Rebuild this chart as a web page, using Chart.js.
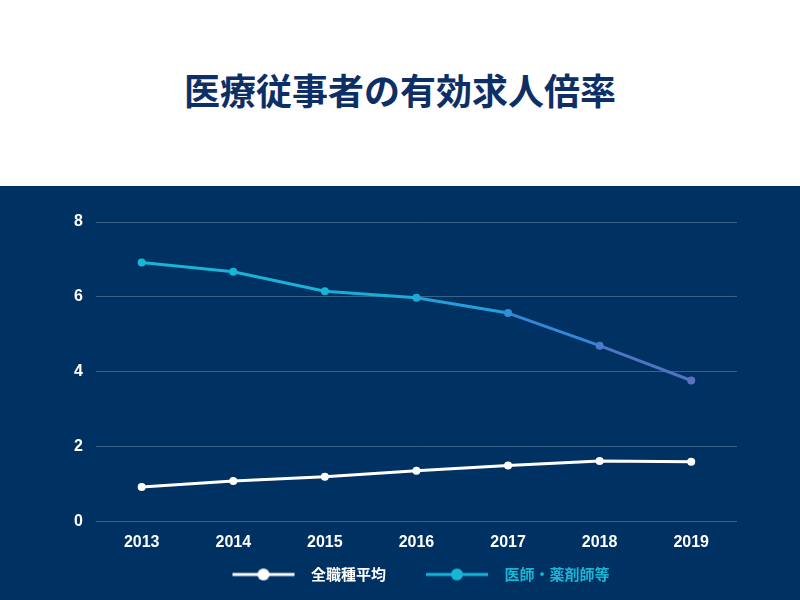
<!DOCTYPE html>
<html lang="ja">
<head>
  <meta charset="UTF-8">
  <title>医療従事者の有効求人倍率</title>
  <script src="https://cdn.jsdelivr.net/npm/chart.js"></script>
  <style>
    body {
      margin: 0;
      width: 800px;
      height: 600px;
      font-family: "Noto Sans CJK JP", "Liberation Sans", sans-serif;
    }
    .header {
      height: 186px;
      background: #ffffff;
      display: flex;
      align-items: center;
      justify-content: center;
    }
    .header h1 {
      margin: 0;
      margin-top: -8px;
      font-size: 36px;
      font-weight: 700;
      color: #0e2f65;
    }
    .panel {
      height: 414px;
      background: #003163;
    }
  </style>
</head>
<body>
  <div class="header"><h1>医療従事者の有効求人倍率</h1></div>
  <div class="panel">
    <canvas id="chart" width="800" height="414"></canvas>
  </div>

  <script>
    const years = ['2013', '2014', '2015', '2016', '2017', '2018', '2019'];
    const allJobs = [0.93, 1.09, 1.20, 1.36, 1.50, 1.62, 1.60];
    const medical = [6.92, 6.67, 6.15, 5.98, 5.57, 4.70, 3.77];
    const seriesNames = ['全職種平均', '医師・薬剤師等'];

    // the medical line fades from cyan to slate blue towards the end
    const segColors = ['#18b6d5', '#18b3d6', '#19aed7', '#239fd9', '#3487d5', '#5272c2'];
    const pointColors = ['#18b6d5', '#18b6d5', '#18b3d6', '#1ea9d8', '#2f8fd8', '#4e7ac9', '#5d70bf'];

    // legend marker: short line with a dot, empty space before/after it
    const markerLead = 30, markerLine = 62, markerTail = 9;
    function legendMarker(color) {
      const c = document.createElement('canvas');
      c.width = markerLead + markerLine + markerTail;
      c.height = 14;
      const g = c.getContext('2d');
      g.strokeStyle = color;
      g.lineWidth = 3;
      g.beginPath();
      g.moveTo(markerLead, 7);
      g.lineTo(markerLead + markerLine, 7);
      g.stroke();
      g.fillStyle = color;
      g.beginPath();
      g.arc(markerLead + markerLine / 2, 7, 6, 0, Math.PI * 2);
      g.fill();
      return c;
    }
    const markers = [legendMarker('#ffffff'), legendMarker('#18b6d5')];
    const legendTextColors = ['#ffffff', '#18b6d5'];

    // nudge the legend a little to the right
    const legendShift = {
      id: 'legendShift',
      afterLayout(chart) {
        chart.legend.left += 7;
        chart.legend.right += 7;
      }
    };

    const ctx = document.getElementById('chart').getContext('2d');
    new Chart(ctx, {
      type: 'line',
      data: {
        labels: years,
        datasets: [
          {
            label: seriesNames[0],
            data: allJobs,
            borderColor: '#ffffff',
            backgroundColor: '#ffffff',
            borderWidth: 3,
            pointRadius: 4,
            pointBackgroundColor: '#ffffff',
            pointBorderWidth: 0
          },
          {
            label: seriesNames[1],
            data: medical,
            borderColor: '#18b6d5',
            backgroundColor: '#18b6d5',
            borderWidth: 3,
            pointRadius: 4,
            pointBackgroundColor: pointColors,
            pointBorderWidth: 0,
            segment: {
              borderColor: c => segColors[c.p0DataIndex]
            }
          }
        ]
      },
      options: {
        responsive: false,
        animation: false,
        layout: {
          padding: { top: 36, left: 61, right: 63, bottom: 8 }
        },
        scales: {
          x: {
            offset: true,
            afterFit: s => { s.height += 2; },
            grid: { display: false },
            border: { display: false },
            ticks: {
              color: '#ffffff',
              padding: 3,
              font: { size: 16, weight: 'bold', family: 'Liberation Sans' }
            }
          },
          y: {
            min: 0,
            max: 8,
            ticks: {
              stepSize: 2,
              color: '#ffffff',
              padding: 13,
              font: { size: 16, weight: 'bold', family: 'Liberation Sans' }
            },
            grid: {
              color: 'rgba(255,255,255,0.24)',
              drawTicks: false
            },
            border: { display: false }
          }
        },
        plugins: {
          legend: {
            position: 'bottom',
            labels: {
              usePointStyle: true,
              pointStyleWidth: markerLead + markerLine + markerTail,
              padding: 10,
              font: { size: 15, weight: 'bold', family: 'Noto Sans CJK JP' },
              generateLabels: chart => {
                const items = Chart.defaults.plugins.legend.labels.generateLabels(chart);
                items.forEach((item, i) => {
                  item.pointStyle = markers[i];
                  item.fontColor = legendTextColors[i];
                });
                return items;
              }
            }
          },
          tooltip: { enabled: false }
        }
      },
      plugins: [legendShift]
    });
  </script>
</body>
</html>
